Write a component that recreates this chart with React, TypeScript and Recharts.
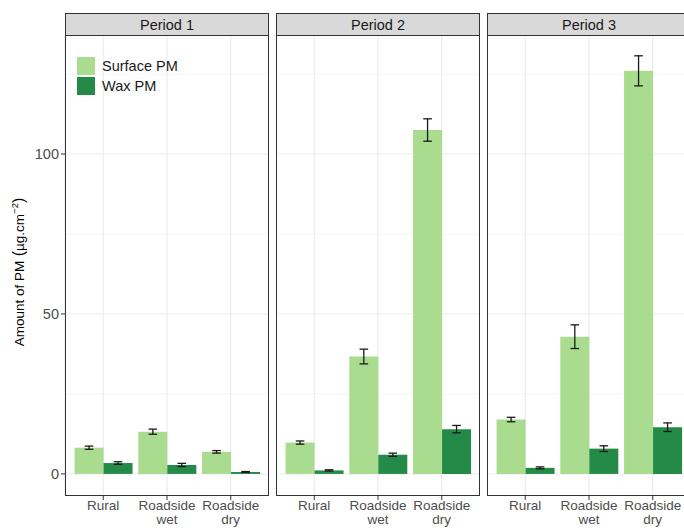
import React from 'react';
import { BarChart, Bar, XAxis, YAxis, ErrorBar, Legend, CartesianGrid } from 'recharts';

const categories = ['Rural', 'Roadside wet', 'Roadside dry'];
const periods = ['Period 1', 'Period 2', 'Period 3'];
const surfacePM = [
  [8.2, 13.2, 6.9],
  [9.8, 36.7, 107.5],
  [17.0, 42.9, 126.0],
];
const surfaceErr = [
  [0.5, 0.8, 0.4],
  [0.5, 2.3, 3.5],
  [0.7, 3.7, 4.7],
];
const waxPM = [
  [3.4, 2.8, 0.6],
  [1.1, 6.0, 14.0],
  [1.9, 7.9, 14.6],
];
const waxErr = [
  [0.4, 0.5, 0.15],
  [0.2, 0.5, 1.15],
  [0.3, 0.9, 1.35],
];
const yTicks = [0, 50, 100];
const yMinor = [25, 75, 125];
const yDomain = [-6.9, 137.2];

const FONT = '"Liberation Sans", Arial, Helvetica, sans-serif';
const LIGHT = '#a9dc8e';
const DARK = '#248a47';
const PANEL_LEFTS = [65, 276, 487];
const PANEL_W = 204;
const PLOT_TOP = 35;
const PLOT_H = 461;
const XAXIS_H = 32;
const YAXIS_W = 65;

const XTick = (props: any) => {
  const { x, y, payload } = props;
  const words = String(payload.value).split(' ');
  return (
    <text x={x} y={y} textAnchor="middle" fill="#4d4d4d" fontSize={13.5} fontFamily={FONT}>
      {words.map((w, i) => (
        <tspan key={i} x={x} dy={i === 0 ? 10 : 14}>
          {w}
        </tspan>
      ))}
    </text>
  );
};

const LegendContent = (props: any) => {
  const { payload } = props;
  return (
    <div style={{ fontFamily: FONT, fontSize: 14.5, color: '#1a1a1a' }}>
      {(payload || []).map((p: any, i: number) => (
        <div key={i} style={{ display: 'flex', alignItems: 'center', height: 20 }}>
          <div style={{ width: 17.5, height: 17.5, background: p.color, marginRight: 7.5 }} />
          <span>{p.value}</span>
        </div>
      ))}
    </div>
  );
};

function Panel({ idx }: { idx: number }) {
  const data = categories.map((c, j) => ({
    cat: c,
    surface: surfacePM[idx][j],
    surfaceErr: surfaceErr[idx][j],
    wax: waxPM[idx][j],
    waxErr: waxErr[idx][j],
  }));
  const first = idx === 0;
  const width = PANEL_W + (first ? YAXIS_W : 0);
  const left = first ? 0 : PANEL_LEFTS[idx];
  const bandPad = (PANEL_W / 3.2) * 0.1;
  return (
    <div style={{ position: 'absolute', left, top: PLOT_TOP }}>
      <BarChart
        width={width}
        height={PLOT_H + XAXIS_H}
        data={data}
        margin={{ top: 0, right: 0, bottom: 0, left: 0 }}
        barCategoryGap="5%"
        barGap={0}
      >
        <CartesianGrid
          horizontal={true}
          vertical={false}
          horizontalValues={yMinor}
          stroke="#f2f2f2"
          strokeWidth={0.8}
        />
        <CartesianGrid
          horizontal={true}
          vertical={true}
          horizontalValues={yTicks}
          stroke="#ebebeb"
          strokeWidth={1.1}
        />
        <XAxis
          dataKey="cat"
          height={XAXIS_H}
          axisLine={false}
          tickLine={{ stroke: '#333333' }}
          tickSize={4}
          tickMargin={0}
          padding={{ left: bandPad, right: bandPad }}
          tick={<XTick />}
          interval={0}
        />
        <YAxis
          hide={!first}
          width={YAXIS_W}
          domain={yDomain}
          ticks={yTicks}
          allowDataOverflow
          type="number"
          axisLine={false}
          tickLine={{ stroke: '#333333' }}
          tickSize={4}
          tickMargin={2}
          tick={{ fill: '#4d4d4d', fontSize: 14.5, fontFamily: FONT }}
        />
        <Bar dataKey="surface" name="Surface PM" fill={LIGHT} isAnimationActive={false}>
          <ErrorBar dataKey="surfaceErr" width={4.3} stroke="#1a1a1a" strokeWidth={1.3} />
        </Bar>
        <Bar dataKey="wax" name="Wax PM" fill={DARK} isAnimationActive={false}>
          <ErrorBar dataKey="waxErr" width={4.3} stroke="#1a1a1a" strokeWidth={1.3} />
        </Bar>
        {first && (
          <Legend
            layout="horizontal"
            verticalAlign="middle"
            align="center"
            content={<LegendContent />}
            wrapperStyle={{ top: 21, left: 77, width: 150, height: 44 }}
          />
        )}
      </BarChart>
    </div>
  );
}

export default function App() {
  return (
    <div
      style={{
        position: 'absolute',
        left: 0,
        top: 0,
        width: 684,
        height: 528,
        overflow: 'hidden',
        background: '#ffffff',
        fontFamily: FONT,
      }}
    >
      {periods.map((p, i) => (
        <Panel key={p} idx={i} />
      ))}
      {periods.map((p, i) => (
        <div
          key={'b' + p}
          style={{
            position: 'absolute',
            left: PANEL_LEFTS[i],
            top: PLOT_TOP,
            width: PANEL_W,
            height: PLOT_H,
            border: '1px solid #333333',
            boxSizing: 'border-box',
            pointerEvents: 'none',
          }}
        />
      ))}
      {periods.map((p, i) => (
        <div
          key={'s' + p}
          style={{
            position: 'absolute',
            left: PANEL_LEFTS[i],
            top: 13,
            width: PANEL_W,
            height: 23,
            background: '#d9d9d9',
            border: '1px solid #333333',
            boxSizing: 'border-box',
            display: 'flex',
            alignItems: 'center',
            justifyContent: 'center',
            fontSize: 14.5,
            color: '#1a1a1a',
          }}
        >
          {p}
        </div>
      ))}
      <svg style={{ position: 'absolute', left: 0, top: 0 }} width={40} height={528}>
        <text
          transform="translate(24,272) rotate(-90)"
          textAnchor="middle"
          fontSize={13.5}
          fontFamily={FONT}
          fill="#000000"
        >
          Amount of PM
          <tspan fontSize={16}> (</tspan>
          <tspan>µg.cm</tspan>
          <tspan dy={-6} fontSize={9.5}>−2</tspan>
          <tspan dy={6} fontSize={16}>)</tspan>
        </text>
      </svg>
    </div>
  );
}
